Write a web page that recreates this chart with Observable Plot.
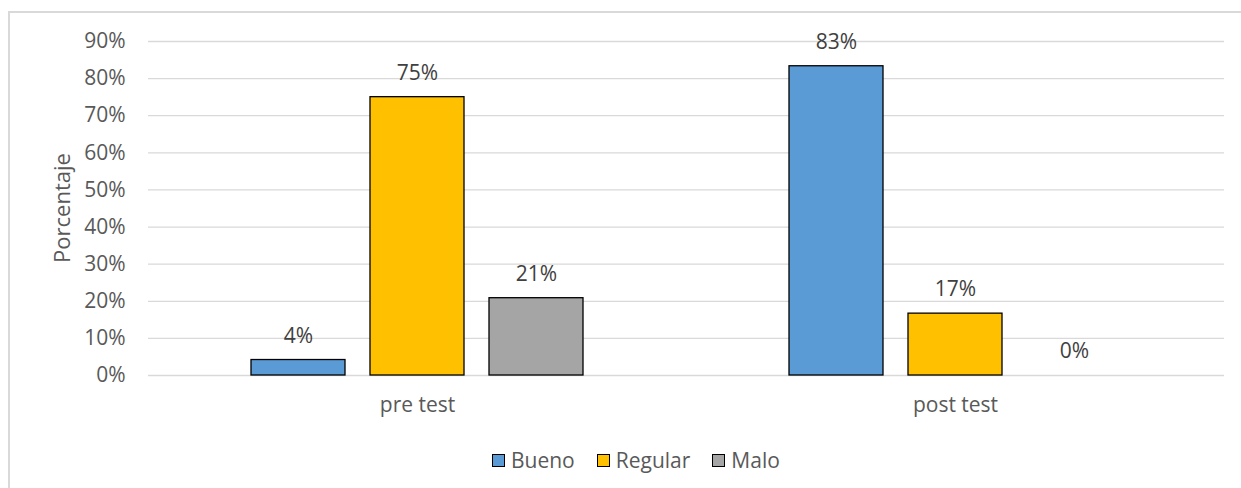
<!DOCTYPE html>
<html><head><meta charset="utf-8">
<script src="https://cdn.jsdelivr.net/npm/d3@7"></script>
<script src="https://cdn.jsdelivr.net/npm/@observablehq/plot@0.6"></script>
<style>
body{margin:0;background:#fff;font-family:"Open Sans",sans-serif;}
#frame{position:absolute;left:8px;top:11px;width:1260px;height:500px;border:2px solid #d9d9d9;box-sizing:border-box;}
#chart{position:absolute;left:0;top:0;}
#ylabel{position:absolute;left:61px;top:208px;transform:translate(-50%,-50%) rotate(-90deg);font-size:22px;color:#595959;white-space:nowrap;line-height:1;}
#legend{position:absolute;top:446px;left:492px;display:flex;align-items:center;gap:22px;font-size:21px;color:#595959;white-space:nowrap;}
#legend .item{display:flex;align-items:center;}
#legend .sw{width:11px;height:11px;border:1.5px solid #000;margin-right:6px;}
</style></head>
<body>
<div id="frame"></div>
<div id="chart"></div>
<div id="ylabel">Porcentaje</div>
<div id="legend"></div>
<script>
const groups = ["pre test", "post test"];
const series = ["Bueno", "Regular", "Malo"];
const preValues = [0.0417, 0.75, 0.2083];
const postValues = [0.8333, 0.1667, 0];
const colors = ["#5B9BD5", "#FFC000", "#A5A5A5"];
const yTicks = [0, 0.1, 0.2, 0.3, 0.4, 0.5, 0.6, 0.7, 0.8, 0.9];

const data = [];
series.forEach((s, i) => data.push({group: groups[0], series: s, value: preValues[i]}));
series.forEach((s, i) => data.push({group: groups[1], series: s, value: postValues[i]}));
const fmt = d3.format(".0%");

const plot = Plot.plot({
  width: 1241,
  height: 430,
  marginLeft: 147,
  marginRight: 17,
  marginTop: 41,
  marginBottom: 55,
  style: {fontFamily: "'Open Sans', sans-serif", fontSize: "21px", color: "#595959", background: "transparent"},
  fx: {domain: groups, paddingInner: 0, paddingOuter: 0, label: null},
  x: {domain: series, paddingInner: 0.213, paddingOuter: 0.86, axis: null},
  y: {domain: [0, 0.9], label: null},
  color: {domain: series, range: colors},
  marks: [
    Plot.gridY(yTicks, {stroke: "#d9d9d9", strokeOpacity: 1, strokeWidth: 1.3}),
    Plot.axisY(yTicks, {tickFormat: fmt, tickSize: 0, tickPadding: 23, fontSize: 21, label: null}),
    Plot.axisFx({anchor: "bottom", tickSize: 0, tickPadding: 22, fontSize: 21, label: null}),
    Plot.barY(data.filter(d => d.value > 0), {fx: "group", x: "series", y: "value", fill: "series", stroke: "#000", strokeWidth: 1.3}),
    Plot.text(data, {fx: "group", x: "series", y: "value", text: d => fmt(d.value), dy: -24, fill: "#404040", fontSize: 21})
  ]
});
document.getElementById("chart").appendChild(plot);

const legend = document.getElementById("legend");
series.forEach((s, i) => {
  const item = document.createElement("div");
  item.className = "item";
  const sw = document.createElement("span");
  sw.className = "sw";
  sw.style.background = colors[i];
  const t = document.createElement("span");
  t.textContent = s;
  item.appendChild(sw); item.appendChild(t);
  legend.appendChild(item);
});
</script>
</body></html>
